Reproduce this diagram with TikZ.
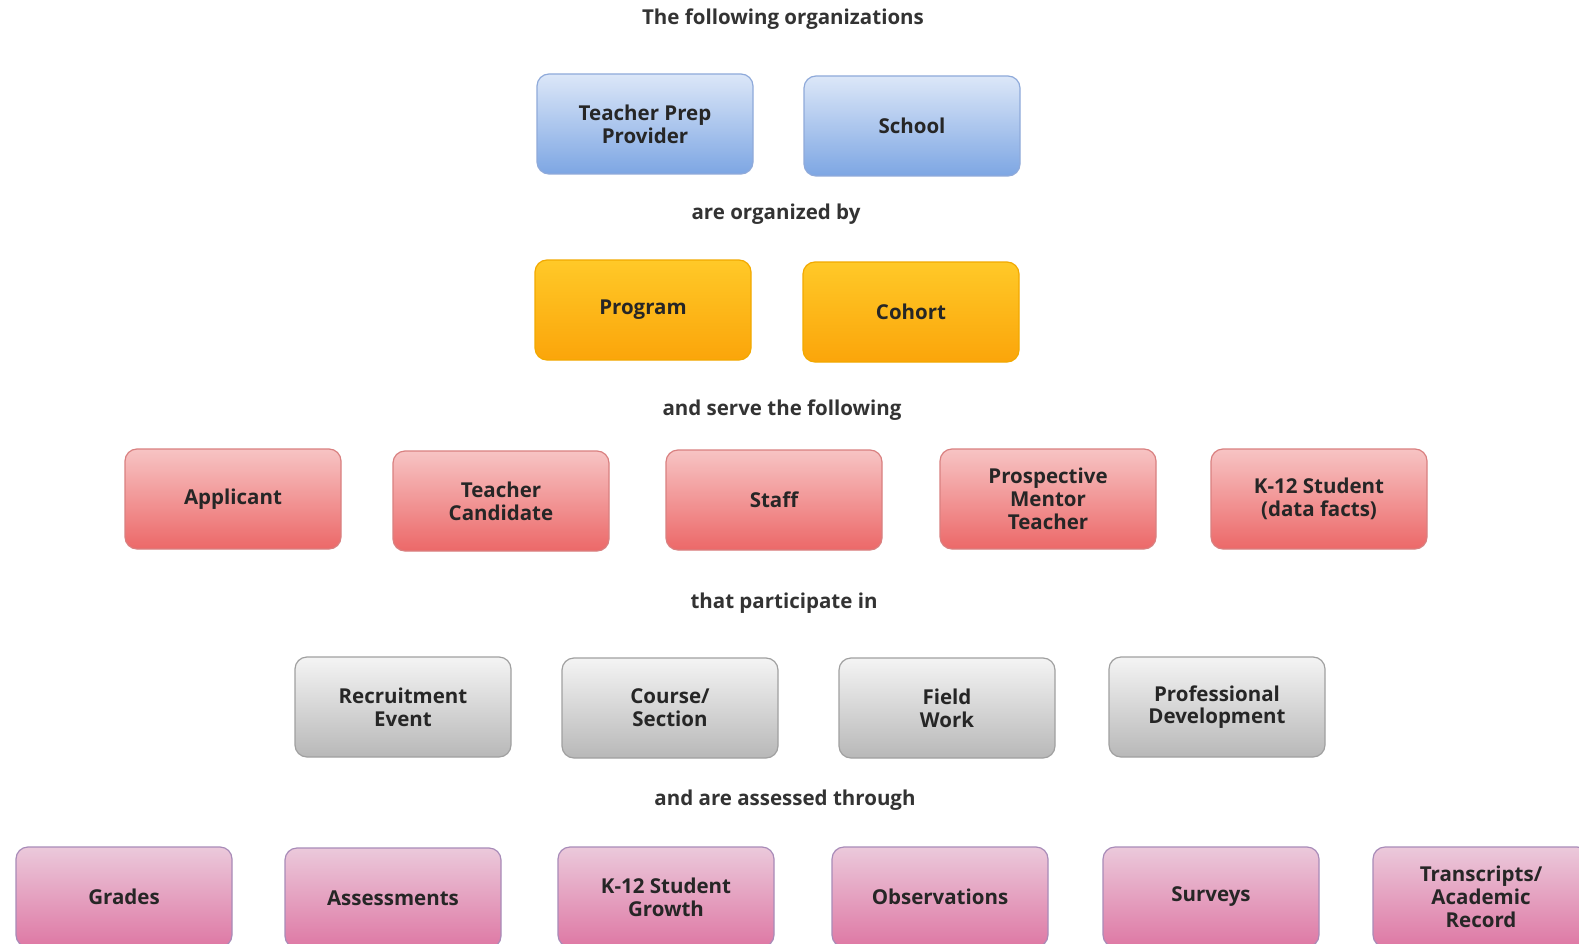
\documentclass[tikz,border=0pt]{standalone}
\usepackage{fontspec}
\setmainfont{Open Sans}
\definecolor{txt}{HTML}{262626}
\definecolor{lbl}{HTML}{333333}
\definecolor{blueedge}{HTML}{8FAADA}
\definecolor{bluetop}{HTML}{DCE7F8}
\definecolor{bluebot}{HTML}{7DA6E3}
\definecolor{orangeedge}{HTML}{F2A900}
\definecolor{orangetop}{HTML}{FFC928}
\definecolor{orangebot}{HTML}{FBA50A}
\definecolor{rededge}{HTML}{D98080}
\definecolor{redtop}{HTML}{F7C4C4}
\definecolor{redbot}{HTML}{EC6868}
\definecolor{grayedge}{HTML}{A0A0A0}
\definecolor{graytop}{HTML}{F4F4F4}
\definecolor{graybot}{HTML}{B8B8B8}
\definecolor{pinkedge}{HTML}{A88BB8}
\definecolor{pinktop}{HTML}{EBC9DB}
\definecolor{pinkbot}{HTML}{DE78A4}
\tikzset{
  box/.style={rectangle, rounded corners=12pt, minimum width=216pt, minimum height=100pt,
    line width=1.2pt, align=center, text=txt, inner sep=2pt,
    font=\fontsize{20.5}{22.7}\selectfont\bfseries},
  bluebox/.style={box, draw=blueedge, top color=bluetop, bottom color=bluebot},
  orangebox/.style={box, draw=orangeedge, top color=orangetop, bottom color=orangebot},
  redbox/.style={box, draw=rededge, top color=redtop, bottom color=redbot},
  graybox/.style={box, draw=grayedge, top color=graytop, bottom color=graybot},
  pinkbox/.style={box, draw=pinkedge, top color=pinktop, bottom color=pinkbot},
  caption/.style={text=lbl, font=\fontsize{20.5}{24}\selectfont\bfseries},
}
\begin{document}
\begin{tikzpicture}[x=1pt,y=-1pt]
\useasboundingbox (0,0) rectangle (1579,944);
\clip (0,0) rectangle (1579,944);
\fill[white] (0,0) rectangle (1579,944);

% captions
\node[caption] (c1) at (783,19) {The following organizations};
\node[caption] (c2) at (776,214) {are organized by};
\node[caption] (c3) at (782,410) {and serve the following};
\node[caption] (c4) at (784,603) {that participate in};
\node[caption] (c5) at (785,800) {and are assessed through};

% organizations
\node[bluebox] (tpp) at (645,124) {Teacher Prep\\Provider};
\node[bluebox] (school) at (912,126) {School};

% organizing units
\node[orangebox] (program) at (643,310) {Program};
\node[orangebox] (cohort) at (911,312) {Cohort};

% people served
\node[redbox] (applicant) at (233,499) {Applicant};
\node[redbox] (candidate) at (501,501) {Teacher\\Candidate};
\node[redbox] (staff) at (774,500) {Staff};
\node[redbox] (mentor) at (1048,499) {Prospective\\Mentor\\Teacher};
\node[redbox] (student) at (1319,499) {K-12 Student\\(data facts)};

% activities
\node[graybox] (recruit) at (403,707) {Recruitment\\Event};
\node[graybox] (course) at (670,708) {Course/\\Section};
\node[graybox] (field) at (947,708) {Field\\Work};
\node[graybox] (prof) at (1217,707) {Professional\\Development};

% assessment sources
\node[pinkbox] (grades) at (124,897) {Grades};
\node[pinkbox] (assess) at (393,898) {Assessments};
\node[pinkbox] (growth) at (666,897) {K-12 Student\\Growth};
\node[pinkbox] (obs) at (940,897) {Observations};
\node[pinkbox] (surveys) at (1211,897) {Surveys};
\node[pinkbox] (records) at (1481,897) {Transcripts/\\Academic\\Record};
\end{tikzpicture}
\end{document}
